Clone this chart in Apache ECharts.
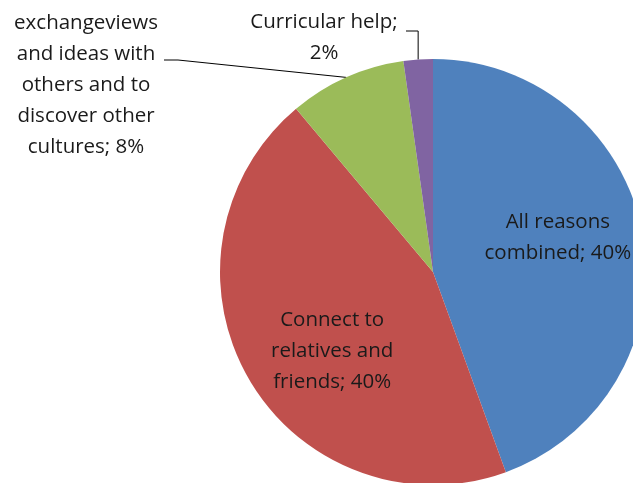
<!DOCTYPE html>
<html>
<head>
<meta charset="utf-8">
<script src="https://cdn.jsdelivr.net/npm/echarts@6/dist/echarts.min.js"></script>
<style>html,body{margin:0;padding:0;background:#fff}#c{width:633px;height:483px}</style>
</head>
<body>
<div id="c"></div>
<script>
const categories = ['All reasons combined', 'Connect to relatives and friends', 'exchangeviews and ideas with others and to discover other cultures', 'Curricular help'];
const labelNames = ['All reasons\ncombined', 'Connect to\nrelatives and\nfriends', 'exchangeviews\nand ideas with\nothers and to\ndiscover other\ncultures', 'Curricular help;\n'];
const values = [40, 40, 8, 2];
const colors = ['#4F81BD', '#C0504D', '#9BBB59', '#8064A2'];

const chart = echarts.init(document.getElementById('c'));
const textStyle = {fontFamily: 'Open Sans', fontSize: 20.5, color: '#1a1a1a', lineHeight: 31};

const data = categories.map((n, i) => {
  const outside = i >= 2;
  return {
    name: n,
    value: values[i],
    itemStyle: {color: colors[i]},
    label: Object.assign({
      show: true,
      position: outside ? 'outside' : 'inside',
      align: 'center',
      formatter: p => {
        const base = labelNames[p.dataIndex];
        return base.endsWith('\n') ? base + p.value + '%' : base + '; ' + p.value + '%';
      }
    }, textStyle),
    labelLine: {show: outside, lineStyle: {color: '#000', width: 1}}
  };
});

chart.setOption({
  animation: false,
  series: [{
    type: 'pie',
    center: [433, 272],
    radius: 213,
    startAngle: 90,
    clockwise: true,
    avoidLabelOverlap: false,
    itemStyle: {borderWidth: 0},
    data: data,
    labelLayout: function (params) {
      const i = params.dataIndex;
      if (i === 0) return {dx: 17, dy: -15};
      if (i === 1) return {dx: -6, dy: 24};
      const a = params.labelLinePoints ? params.labelLinePoints[0] : [0, 0];
      if (i === 2) {
        return {x: 86, y: 85, align: 'center', verticalAlign: 'middle',
          labelLinePoints: [a, [178, 60], [164, 60]]};
      }
      return {x: 324, y: 38, align: 'center', verticalAlign: 'middle',
        labelLinePoints: [a, [a[0], 31], [406, 31]]};
    }
  }]
});
</script>
</body>
</html>
